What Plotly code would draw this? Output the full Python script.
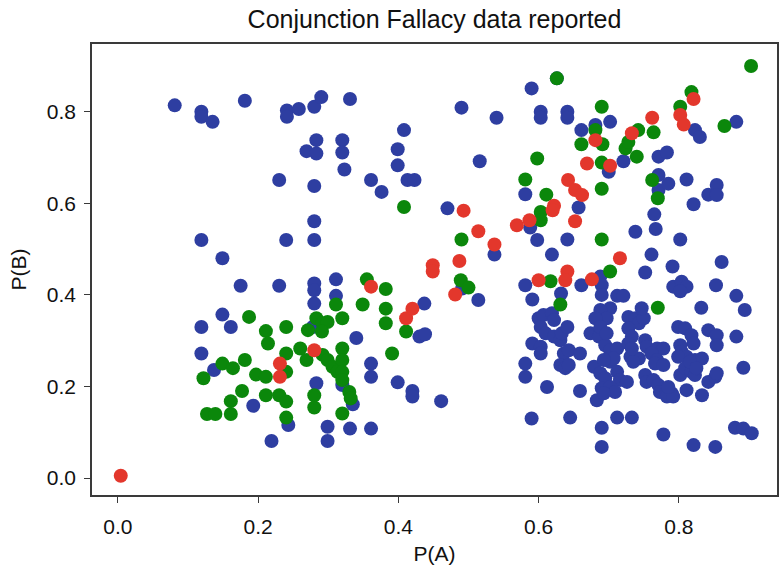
import plotly.graph_objects as go

# Probability estimates P(A), P(B) grouped by response category
blue_x = [
    0.081, 0.119, 0.119, 0.135, 0.181, 0.241, 0.241, 0.258, 0.280, 0.290,
    0.283, 0.269, 0.283, 0.230, 0.280, 0.280, 0.119, 0.240, 0.280, 0.149,
    0.331, 0.320, 0.320, 0.323, 0.361, 0.376, 0.408, 0.399, 0.399, 0.413,
    0.423, 0.490, 0.540, 0.590, 0.516, 0.470, 0.581, 0.588, 0.537, 0.598,
    0.626, 0.603, 0.603, 0.641, 0.641, 0.661, 0.681, 0.702, 0.700, 0.721,
    0.771, 0.783, 0.823, 0.830, 0.882, 0.771, 0.771, 0.785, 0.811, 0.821,
    0.842, 0.854, 0.854, 0.765, 0.767, 0.738, 0.802, 0.761, 0.657, 0.641,
    0.619,
    0.752, 0.791, 0.861, 0.661, 0.688, 0.690, 0.690, 0.632, 0.792, 0.804,
    0.811, 0.802, 0.853, 0.882, 0.894, 0.712, 0.721, 0.832, 0.581, 0.581,
    0.581, 0.590,
    0.591, 0.600, 0.607, 0.619, 0.622, 0.603, 0.610, 0.622, 0.631, 0.633,
    0.641, 0.591, 0.603, 0.603, 0.636, 0.643, 0.659, 0.631, 0.638, 0.643,
    0.612, 0.659, 0.645, 0.690, 0.690, 0.712, 0.733, 0.778, 0.821, 0.852,
    0.880, 0.892, 0.904, 0.702, 0.688, 0.697, 0.681, 0.674, 0.686, 0.688,
    0.695, 0.702, 0.712, 0.702, 0.679, 0.688, 0.695, 0.712, 0.716, 0.726,
    0.690, 0.702, 0.709, 0.683, 0.693, 0.728, 0.738, 0.743, 0.750, 0.747,
    0.728, 0.733, 0.728, 0.731, 0.743, 0.735, 0.752, 0.754, 0.769, 0.778,
    0.761, 0.769, 0.752, 0.754, 0.764, 0.771, 0.773, 0.783, 0.790, 0.783,
    0.792, 0.799, 0.809, 0.818, 0.821, 0.802, 0.804, 0.811, 0.823, 0.833,
    0.802, 0.809, 0.818, 0.823, 0.811, 0.833, 0.842, 0.854, 0.854, 0.842,
    0.852, 0.854, 0.882, 0.892, 0.799, 0.816, 0.785, 0.825, 0.697, 0.707,
    0.693, 0.733, 0.766, 0.778,
    0.311, 0.311, 0.340, 0.320, 0.335, 0.299, 0.299, 0.331, 0.361, 0.361,
    0.361, 0.399, 0.420, 0.420, 0.461, 0.437, 0.430, 0.438, 0.491, 0.514,
    0.175, 0.230, 0.280, 0.280, 0.280, 0.149, 0.119, 0.161, 0.278, 0.119,
    0.137, 0.283, 0.193, 0.243, 0.219,
]
blue_y = [
    0.814, 0.800, 0.789, 0.778, 0.824, 0.803, 0.789, 0.806, 0.811, 0.832,
    0.738, 0.714, 0.709, 0.651, 0.638, 0.561, 0.520, 0.520, 0.520, 0.480,
    0.828, 0.738, 0.711, 0.674, 0.651, 0.625, 0.760, 0.718, 0.683, 0.651,
    0.651, 0.809, 0.787, 0.851, 0.692, 0.589, 0.620, 0.547, 0.488, 0.520,
    0.873, 0.800, 0.787, 0.800, 0.787, 0.760, 0.771, 0.778, 0.669, 0.692,
    0.702, 0.711, 0.760, 0.745, 0.778, 0.662, 0.629, 0.643, 0.652, 0.598,
    0.619, 0.640, 0.618, 0.576, 0.544, 0.538, 0.521, 0.488, 0.591, 0.521,
    0.488,
    0.449, 0.462, 0.472, 0.421, 0.440, 0.421, 0.400, 0.403, 0.418, 0.429,
    0.418, 0.408, 0.421, 0.398, 0.367, 0.398, 0.398, 0.372, 0.421, 0.250,
    0.221, 0.130,
    0.390, 0.349, 0.356, 0.360, 0.345, 0.330, 0.316, 0.309, 0.301, 0.316,
    0.330, 0.294, 0.287, 0.272, 0.272, 0.279, 0.272, 0.247, 0.240, 0.247,
    0.199, 0.190, 0.132, 0.110, 0.068, 0.132, 0.132, 0.095, 0.072, 0.068,
    0.110, 0.108, 0.098, 0.371, 0.367, 0.349, 0.349, 0.316, 0.309, 0.330,
    0.290, 0.279, 0.283, 0.254, 0.243, 0.229, 0.218, 0.232, 0.214, 0.210,
    0.196, 0.199, 0.188, 0.170, 0.185, 0.352, 0.349, 0.338, 0.349, 0.371,
    0.327, 0.309, 0.294, 0.265, 0.261, 0.254, 0.301, 0.287, 0.283, 0.283,
    0.272, 0.258, 0.225, 0.210, 0.214, 0.203, 0.188, 0.188, 0.185, 0.178,
    0.178, 0.330, 0.327, 0.312, 0.294, 0.290, 0.276, 0.265, 0.258, 0.261,
    0.225, 0.240, 0.232, 0.225, 0.192, 0.181, 0.323, 0.312, 0.290, 0.210,
    0.221, 0.229, 0.309, 0.241, 0.265, 0.254, 0.199, 0.240, 0.316, 0.261,
    0.258, 0.283, 0.250, 0.247,
    0.434, 0.398, 0.306, 0.203, 0.161, 0.112, 0.081, 0.108, 0.108, 0.250,
    0.221, 0.209, 0.190, 0.178, 0.168, 0.381, 0.309, 0.314, 0.414, 0.389,
    0.420, 0.420, 0.425, 0.410, 0.381, 0.357, 0.330, 0.330, 0.330, 0.272,
    0.236, 0.207, 0.158, 0.116, 0.081,
]

green_x = [
    0.903, 0.626, 0.690, 0.681, 0.661, 0.691, 0.690, 0.724, 0.728, 0.742,
    0.740, 0.764, 0.802, 0.818, 0.865, 0.598, 0.581, 0.611, 0.603, 0.603,
    0.690, 0.762, 0.770, 0.690, 0.702, 0.408, 0.490, 0.617, 0.631, 0.770,
    0.489, 0.500, 0.411, 0.355, 0.382, 0.349, 0.311, 0.382, 0.382, 0.320,
    0.283, 0.292, 0.299, 0.291, 0.292, 0.299, 0.306, 0.313, 0.320, 0.320,
    0.320, 0.320, 0.330, 0.332, 0.320, 0.391, 0.187, 0.211, 0.214, 0.240,
    0.271, 0.149, 0.164, 0.181, 0.122, 0.197, 0.211, 0.240, 0.240, 0.260,
    0.269, 0.177, 0.161, 0.211, 0.230, 0.240, 0.280, 0.280, 0.127, 0.139,
    0.161, 0.240,
]
green_y = [
    0.900, 0.873, 0.811, 0.760, 0.729, 0.729, 0.689, 0.720, 0.734, 0.760,
    0.702, 0.755, 0.811, 0.843, 0.769, 0.698, 0.652, 0.619, 0.581, 0.563,
    0.632, 0.651, 0.611, 0.521, 0.451, 0.592, 0.521, 0.430, 0.379, 0.372,
    0.432, 0.416, 0.320, 0.434, 0.413, 0.379, 0.379, 0.370, 0.338, 0.349,
    0.349, 0.338, 0.341, 0.320, 0.269, 0.258, 0.243, 0.232, 0.283, 0.258,
    0.232, 0.214, 0.188, 0.174, 0.141, 0.272, 0.352, 0.321, 0.294, 0.330,
    0.323, 0.250, 0.240, 0.258, 0.218, 0.226, 0.221, 0.272, 0.232, 0.283,
    0.258, 0.190, 0.168, 0.181, 0.181, 0.167, 0.181, 0.154, 0.140, 0.140,
    0.140, 0.132,
]

red_x = [
    0.493, 0.569, 0.587, 0.514, 0.537, 0.487, 0.449, 0.449, 0.681, 0.669,
    0.702, 0.733, 0.762, 0.821, 0.802, 0.807, 0.642, 0.652, 0.662, 0.622,
    0.620, 0.652, 0.716, 0.641, 0.638, 0.600, 0.676, 0.481, 0.361, 0.411,
    0.420, 0.231, 0.231, 0.280, 0.004,
]
red_y = [
    0.584, 0.552, 0.563, 0.539, 0.510, 0.474, 0.465, 0.451, 0.738, 0.687,
    0.682, 0.753, 0.787, 0.828, 0.793, 0.772, 0.651, 0.629, 0.618, 0.595,
    0.585, 0.561, 0.480, 0.451, 0.432, 0.432, 0.434, 0.401, 0.418, 0.349,
    0.370, 0.250, 0.221, 0.279, 0.005,
]

x_ticks = [0.0, 0.2, 0.4, 0.6, 0.8]
y_ticks = [0.0, 0.2, 0.4, 0.6, 0.8]

BLUE = "#2e3ea1"
GREEN = "#0b870b"
RED = "#e3372c"
FONT = "Liberation Sans, Arial, sans-serif"

fig = go.Figure()
for xs, ys, col in [(blue_x, blue_y, BLUE), (green_x, green_y, GREEN), (red_x, red_y, RED)]:
    fig.add_trace(go.Scatter(
        x=xs, y=ys, mode="markers",
        marker=dict(size=14, color=col, line=dict(width=0)),
        showlegend=False, hoverinfo="x+y",
    ))

axis_common = dict(
    showline=True, linecolor="#3a3a3a", linewidth=1.6, mirror=True,
    showgrid=False, zeroline=False,
    ticks="outside", ticklen=6, tickwidth=1.3, tickcolor="#3a3a3a",
    tickfont=dict(family=FONT, size=21, color="#111111"),
    tickformat=".1f",
)

fig.update_layout(
    width=779, height=573,
    margin=dict(l=92, r=0, t=44, b=78),
    paper_bgcolor="white", plot_bgcolor="white",
    title=dict(text="Conjunction Fallacy data reported",
               x=0.5, xref="paper", y=1 - 19 / 573, yref="container",
               yanchor="middle",
               font=dict(family=FONT, size=25, color="#111111")),
    xaxis=dict(range=[-0.037, 0.94], tickvals=x_ticks, ticklabelstandoff=6,
               title=dict(text="P(A)", font=dict(family=FONT, size=21, color="#111111"),
                          standoff=9),
               **axis_common),
    yaxis=dict(range=[-0.037, 0.948], tickvals=y_ticks, ticklabelstandoff=4,
               title=dict(text="P(B)", font=dict(family=FONT, size=21, color="#111111"),
                          standoff=14),
               **axis_common),
)

fig.write_html("out.html")
